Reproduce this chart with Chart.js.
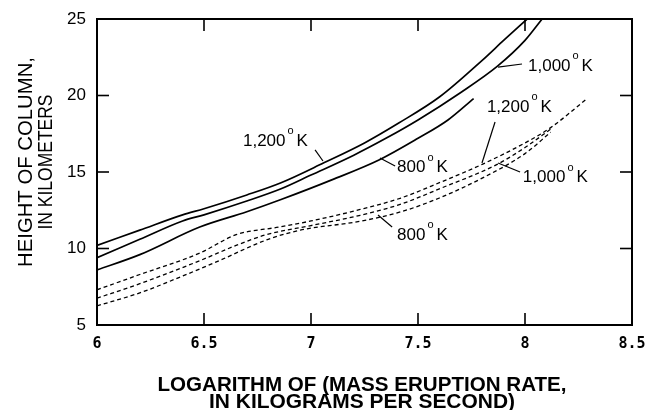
<!DOCTYPE html>
<html>
<head>
<meta charset="utf-8">
<script src="https://cdn.jsdelivr.net/npm/chart.js@4.4.1/dist/chart.umd.min.js"></script>
<style>
  html, body { margin: 0; padding: 0; background: #fff; }
  canvas { display: block; }
</style>
</head>
<body>
<canvas id="chart" width="647" height="410"></canvas>
<script>
// Marcas de los ejes
const xTicks = [6, 6.5, 7, 7.5, 8, 8.5];
const yTicks = [5, 10, 15, 20, 25];

// Curvas continuas: [log tasa de erupción, altura en km]
const solid1200 = [[6, 10.2], [6.2, 11.2], [6.4, 12.2], [6.5, 12.6], [6.7, 13.5], [6.86, 14.3], [7.06, 15.6], [7.25, 16.9], [7.41, 18.2], [7.6, 19.9], [7.8, 22.3], [7.9, 23.6], [8.01, 25]];
const solid1000 = [[6, 9.4], [6.2, 10.6], [6.4, 11.8], [6.5, 12.2], [6.7, 13.1], [6.86, 13.9], [7.0, 14.8], [7.2, 16.1], [7.35, 17.2], [7.5, 18.4], [7.7, 20.2], [7.87, 21.9], [8.0, 23.6], [8.08, 25]];
const solid800 = [[6, 8.6], [6.2, 9.6], [6.48, 11.4], [6.7, 12.4], [6.86, 13.2], [7.1, 14.5], [7.32, 15.8], [7.5, 17.2], [7.64, 18.4], [7.76, 19.8]];

// Curvas discontinuas
const dash1200 = [[6, 7.3], [6.2, 8.3], [6.48, 9.7], [6.65, 10.9], [6.85, 11.4], [7.0, 11.8], [7.23, 12.55], [7.42, 13.3], [7.6, 14.3], [7.8, 15.5], [8.0, 16.9], [8.12, 17.9], [8.29, 19.8]];
const dash1000 = [[6, 6.75], [6.2, 7.7], [6.48, 9.2], [6.65, 10.2], [6.79, 10.9], [7.0, 11.5], [7.23, 12.17], [7.42, 12.9], [7.6, 13.9], [7.87, 15.5], [8.0, 16.6], [8.12, 17.8]];
const dash800 = [[6, 6.25], [6.2, 7.1], [6.4, 8.2], [6.57, 9.2], [6.8, 10.6], [6.95, 11.2], [7.23, 11.78], [7.42, 12.4], [7.6, 13.3], [7.8, 14.6], [8.0, 16.2], [8.12, 17.6]];

// Etiquetas de temperatura (en coordenadas de datos): texto, punto del texto, línea guía
const curveLabels = [
    { text: '1,200', at: [6.682, 17.03], from: [7.056, 15.72], to: [7.019, 16.44] },
    { text: '1,000', at: [8.014, 21.93], from: [7.874, 21.86], to: [7.986, 22.06] },
    { text: '800', at: [7.402, 15.29], from: [7.322, 15.92], to: [7.393, 15.39] },
    { text: '1,200', at: [7.822, 19.22], from: [7.799, 15.59], to: [7.86, 18.27] },
    { text: '1,000', at: [7.99, 14.64], from: [7.874, 15.59], to: [7.977, 15.0] },
    { text: '800', at: [7.402, 10.88], from: [7.313, 12.19], to: [7.379, 11.41] }
];

const xTitle = ['LOGARITHM OF (MASS ERUPTION RATE,', 'IN KILOGRAMS PER SECOND)'];
const yTitle = ['HEIGHT OF COLUMN,', 'IN KILOMETERS'];

function toPoints(arr) {
    return arr.map(p => ({ x: p[0], y: p[1] }));
}

function curve(arr, dashed) {
    return {
        data: toPoints(arr),
        borderColor: '#000',
        borderWidth: dashed ? 1.3 : 1.7,
        borderDash: dashed ? [4, 3] : [],
        pointRadius: 0,
        fill: false,
        cubicInterpolationMode: 'monotone'
    };
}

// Dibuja marco, marcas hacia dentro, etiquetas y títulos
const framePlugin = {
    id: 'frame',
    afterDraw(chart) {
        const { ctx, chartArea: a, scales: { x, y } } = chart;
        const line = (x1, y1, x2, y2) => {
            ctx.beginPath();
            ctx.moveTo(x1, y1);
            ctx.lineTo(x2, y2);
            ctx.stroke();
        };
        ctx.save();
        ctx.strokeStyle = '#000';
        ctx.fillStyle = '#000';
        ctx.lineWidth = 2;
        ctx.strokeRect(a.left, a.top, a.right - a.left, a.bottom - a.top);

        ctx.lineWidth = 1.6;
        xTicks.slice(1, -1).forEach(v => {
            const px = x.getPixelForValue(v);
            line(px, a.bottom, px, a.bottom - 12);
            line(px, a.top, px, a.top + 12);
        });
        yTicks.slice(1, -1).forEach(v => {
            const py = y.getPixelForValue(v);
            line(a.left, py, a.left + 12, py);
            line(a.right, py, a.right - 12, py);
        });

        // etiquetas de las curvas
        ctx.lineWidth = 1.2;
        curveLabels.forEach(l => {
            line(x.getPixelForValue(l.from[0]), y.getPixelForValue(l.from[1]),
                 x.getPixelForValue(l.to[0]), y.getPixelForValue(l.to[1]));
            const px = x.getPixelForValue(l.at[0]);
            const py = y.getPixelForValue(l.at[1]);
            ctx.textBaseline = 'middle';
            ctx.textAlign = 'left';
            ctx.font = '17px "Liberation Sans", Arial, sans-serif';
            ctx.fillText(l.text, px, py);
            const w = ctx.measureText(l.text).width;
            ctx.font = '11px "Liberation Sans", Arial, sans-serif';
            ctx.fillText('o', px + w + 2, py - 10);
            ctx.font = '17px "Liberation Sans", Arial, sans-serif';
            ctx.fillText('K', px + w + 11, py);
        });

        // título del eje x (letra estrecha)
        ctx.textAlign = 'center';
        ctx.textBaseline = 'alphabetic';
        ctx.font = 'bold 21px "Liberation Sans Narrow", "Liberation Sans", Arial, sans-serif';
        const xWidths = [409, 306];
        const xRows = [391, 408];
        const cx = 362;
        xTitle.forEach((t, i) => {
            const w = ctx.measureText(t).width;
            ctx.save();
            ctx.translate(cx, xRows[i]);
            ctx.scale(xWidths[i] / w, 1);
            ctx.fillText(t, 0, 0);
            ctx.restore();
        });

        // título del eje y (girado)
        ctx.textBaseline = 'middle';
        ctx.font = '20px "Liberation Sans", Arial, sans-serif';
        const yWidths = [210, 135];
        const yCols = [26, 46];
        yTitle.forEach((t, i) => {
            const w = ctx.measureText(t).width;
            ctx.save();
            ctx.translate(yCols[i], 162);
            ctx.rotate(-Math.PI / 2);
            ctx.scale(yWidths[i] / w, 1);
            ctx.fillText(t, 0, 0);
            ctx.restore();
        });
        ctx.restore();
    }
};

new Chart(document.getElementById('chart'), {
    type: 'line',
    data: {
        datasets: [
            curve(solid1200, false),
            curve(solid1000, false),
            curve(solid800, false),
            curve(dash1200, true),
            curve(dash1000, true),
            curve(dash800, true)
        ]
    },
    options: {
        responsive: false,
        animation: false,
        devicePixelRatio: 1,
        layout: { padding: { left: 0, right: 15, top: 19, bottom: 0 } },
        plugins: { legend: { display: false }, tooltip: { enabled: false } },
        scales: {
            x: {
                type: 'linear',
                min: 6,
                max: 8.5,
                afterFit: s => { s.height = 85; s.paddingLeft = 0; s.paddingRight = 0; },
                afterBuildTicks: s => { s.ticks = xTicks.map(v => ({ value: v })); },
                grid: { display: false, drawTicks: false },
                border: { display: false },
                ticks: {
                    color: '#000',
                    padding: 10,
                    maxRotation: 0,
                    font: { family: '"DejaVu Sans Mono", monospace', size: 15, weight: 'bold' },
                    callback: v => String(v)
                }
            },
            y: {
                min: 5,
                max: 25,
                afterFit: s => { s.width = 97; s.paddingTop = 0; s.paddingBottom = 0; },
                afterBuildTicks: s => { s.ticks = yTicks.map(v => ({ value: v })); },
                grid: { display: false, drawTicks: false },
                border: { display: false },
                ticks: {
                    color: '#000',
                    padding: 11,
                    font: { family: '"Liberation Sans", Arial, sans-serif', size: 17 },
                    callback: v => String(v)
                }
            }
        }
    },
    plugins: [framePlugin]
});
</script>
</body>
</html>
